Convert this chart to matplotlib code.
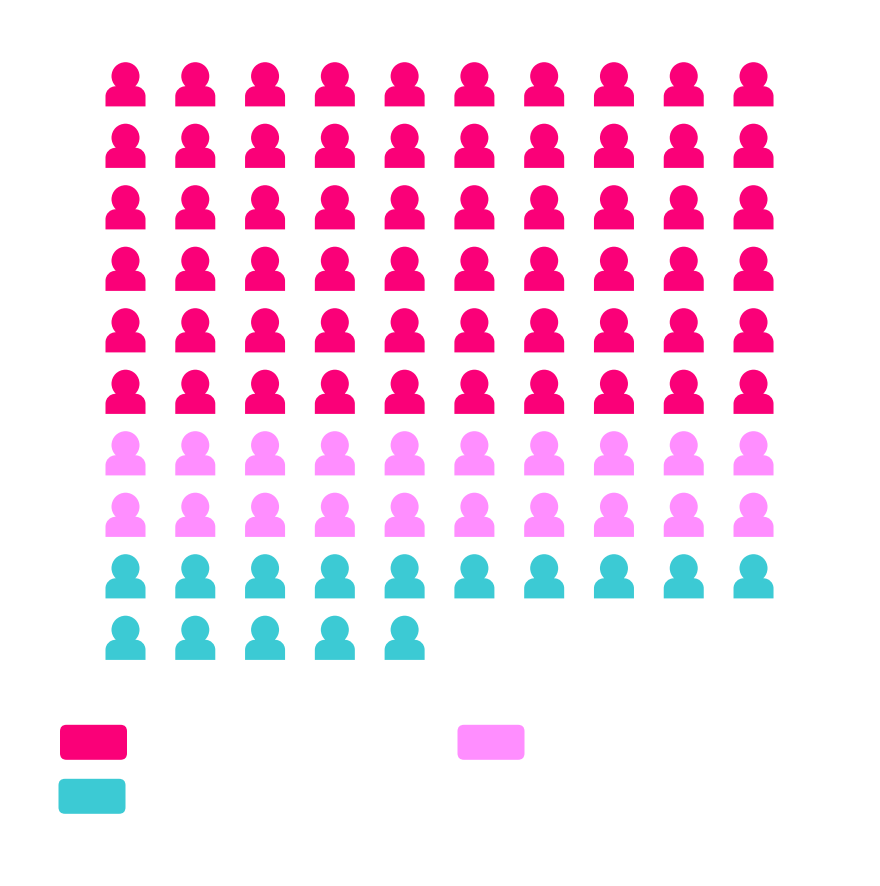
import numpy as np
import matplotlib
matplotlib.use("Agg")
import matplotlib.pyplot as plt
from matplotlib.path import Path
from matplotlib.patches import FancyBboxPatch

# Data: one icon per unit, filled row by row
counts = [60, 20, 15, 5]
colors = ["#FA0078", "#FF8EFF", "#3CCAD4", "#FFFFFF"]
n_cols = 10

W, H, DPI = 880, 887, 100
X0, DX = 125.5, 69.78
Y0, DY = 85.8, 61.5

# Icon path in pixel units, centred on the icon's middle (y up)
def person():
    head = Path.circle((0, 8.6), 14.0)
    r, k = 10.0, 0.5523
    w, b, t = 20.0, -21.6, -1.5
    verts = [(-w, b), (w, b), (w, t - r),
             (w, t - r + k * r), (w - r + k * r, t), (w - r, t),
             (-w + r, t),
             (-w + r - k * r, t), (-w, t - r + k * r), (-w, t - r),
             (-w, b)]
    codes = [Path.MOVETO, Path.LINETO, Path.LINETO,
             Path.CURVE4, Path.CURVE4, Path.CURVE4,
             Path.LINETO,
             Path.CURVE4, Path.CURVE4, Path.CURVE4,
             Path.CLOSEPOLY]
    return Path.make_compound_path(head, Path(verts, codes))

icon = person()
extent = np.abs(icon.vertices).max()
size_pt = 2 * extent * 72 / DPI

fig = plt.figure(figsize=(W / DPI, H / DPI), dpi=DPI, facecolor="white")
ax = fig.add_axes([0, 0, 1, 1])
ax.set_xlim(0, W)
ax.set_ylim(H, 0)
ax.axis("off")

idx = np.arange(sum(counts))
group = np.repeat(np.arange(len(counts)), counts)
xs = X0 + DX * (idx % n_cols)
ys = Y0 + DY * (idx // n_cols)
ax.scatter(xs, ys, s=size_pt ** 2, marker=icon,
           c=[colors[g] for g in group], linewidths=0)

# Legend swatches (labels in the reference are white on white and cannot be read)
swatches = [(60, 725.8, 67), (457.5, 725.8, 67), (58.5, 779.8, 67), (457.5, 779.8, 67)]
for (x, y, w), col in zip(swatches, colors):
    ax.add_patch(FancyBboxPatch((x + 6.5, y + 6.5), w - 13, 35 - 13,
                                boxstyle="round,pad=6.5,rounding_size=6.5",
                                fc=col, ec="none"))

fig.savefig("out.png", dpi=DPI, facecolor="white")
